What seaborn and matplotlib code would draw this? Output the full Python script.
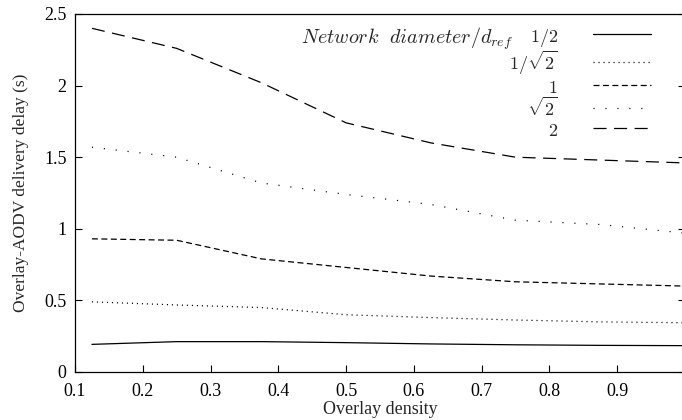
import matplotlib
matplotlib.use("Agg")
import matplotlib.pyplot as plt
import seaborn as sns
import pandas as pd

density = [0.125, 0.25, 0.375, 0.5, 0.625, 0.75, 0.875, 1.0]
delay_half = [0.193, 0.212, 0.212, 0.205, 0.196, 0.190, 0.186, 0.184]
delay_inv_sqrt2 = [0.49, 0.468, 0.45, 0.40, 0.38, 0.363, 0.35, 0.344]
delay_one = [0.93, 0.92, 0.79, 0.73, 0.67, 0.63, 0.615, 0.60]
delay_sqrt2 = [1.57, 1.50, 1.32, 1.24, 1.17, 1.06, 1.03, 0.97]
delay_two = [2.40, 2.26, 2.02, 1.74, 1.60, 1.50, 1.48, 1.46]

legend_title = r"$Network\ \ diameter/d_{ref}$"
series_labels = [r"$1/2$", r"$1/\sqrt{2}$", r"$1$", r"$\sqrt{2}$", r"$2$"]
series_values = [delay_half, delay_inv_sqrt2, delay_one, delay_sqrt2, delay_two]
# line styles in points (1 px = 0.72 pt)
series_styles = ["-", (0, (0.8, 2.8)), (0, (4.3, 2.5)), (0, (0.8, 7.8)), (0, (9.4, 5.4))]

sns.set_style("ticks")
plt.rcParams["font.family"] = ["Liberation Serif", "DejaVu Serif"]
plt.rcParams["mathtext.fontset"] = "cm"
plt.rcParams["lines.scale_dashes"] = False

W, H = 682, 420
L, R, B, T = 75, 685, 372, 14
fig = plt.figure(figsize=(W / 100, H / 100), dpi=100)
ax = fig.add_axes([L / W, 1 - B / H, (R - L) / W, (B - T) / H])

for lab, vals, ls in zip(series_labels, series_values, series_styles):
    df = pd.DataFrame({"density": density, "delay": vals})
    sns.lineplot(data=df, x="density", y="delay", ax=ax, color="black",
                 linewidth=0.9, linestyle=ls, label=lab, legend=False)

ax.set_xlim(0.1, 1.0)
ax.set_ylim(0, 2.5)
ax.set_xticks([0.1, 0.2, 0.3, 0.4, 0.5, 0.6, 0.7, 0.8, 0.9])
ax.set_xticklabels(["0.1", "0.2", "0.3", "0.4", "0.5", "0.6", "0.7", "0.8", "0.9"])
ax.set_yticks([0, 0.5, 1, 1.5, 2, 2.5])
ax.set_yticklabels(["0", "0.5", "1", "1.5", "2", "2.5"])
ax.tick_params(direction="in", length=5, width=0.8, labelsize=13, colors="black",
               right=True, top=False)
ax.tick_params(axis="y", pad=6)
ax.tick_params(axis="x", pad=8)
for s in ["left", "bottom", "top", "right"]:
    ax.spines[s].set_visible(True)
    ax.spines[s].set_linewidth(0.9)
    ax.spines[s].set_color("black")

ax.set_xlabel("Overlay density", fontsize=13, labelpad=1)
ax.set_ylabel("Overlay-AODV delivery delay (s)", fontsize=12.5, labelpad=11)

handles = ax.get_lines()[:5]
leg = ax.legend(handles=handles, labels=series_labels, loc="upper right",
                bbox_to_anchor=((651 - L) / (R - L), (B - 26) / (B - T)),
                frameon=False, markerfirst=False, fontsize=13,
                handlelength=3.2, handleheight=1.285, handletextpad=1.95,
                labelspacing=0.0, borderpad=0, borderaxespad=0)
leg.set_zorder(5)

fig.canvas.draw()
ax.annotate(legend_title, xy=(0, 0.0), xycoords=leg.get_texts()[0],
            xytext=(-12, -2.5), textcoords="offset points",
            ha="right", va="bottom", fontsize=14.5, zorder=6)

fig.savefig("out.png", dpi=100)
